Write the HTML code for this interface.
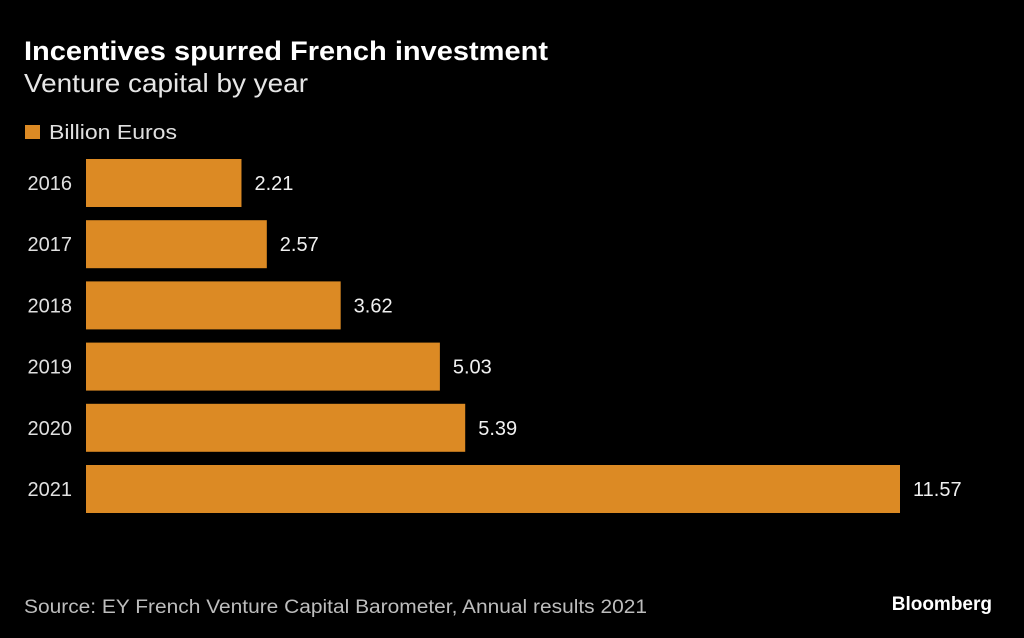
<!DOCTYPE html>
<html><head><meta charset="utf-8"><style>
body{margin:0;background:#000;width:1024px;height:638px;overflow:hidden}
svg{display:block;font-family:"Liberation Sans",sans-serif}
</style></head><body>
<svg id="c" width="1024" height="638" viewBox="0 0 1024 638">
<text x="24" y="60" fill="#fff" font-size="27" font-weight="bold" textLength="524" lengthAdjust="spacingAndGlyphs">Incentives spurred French investment</text>
<text x="24" y="92" fill="#e6e6e6" font-size="26" textLength="284" lengthAdjust="spacingAndGlyphs">Venture capital by year</text>
<rect x="25" y="125" width="15" height="14" fill="#dc8a24"/>
<text x="49" y="139" fill="#e0e0e0" font-size="20" textLength="128" lengthAdjust="spacingAndGlyphs">Billion Euros</text>
<g id="bars"></g>
<text x="24" y="613" fill="#bdbdbd" font-size="19" textLength="623" lengthAdjust="spacingAndGlyphs">Source: EY French Venture Capital Barometer, Annual results 2021</text>
<text x="992" y="610" fill="#fff" font-size="19" font-weight="bold" text-anchor="end">Bloomberg</text>
</svg>
<script>
const categories=["2016","2017","2018","2019","2020","2021"];
const values=[2.21,2.57,3.62,5.03,5.39,11.57];
const valueLabels=["2.21","2.57","3.62","5.03","5.39","11.57"];
const x0=86,xScale=814/11.57;
const xPos=v=>x0+v*xScale;
const yPos=i=>159+i*61.2;
const g=document.getElementById('bars');
const NS="http://www.w3.org/2000/svg";
categories.forEach((c,i)=>{
  const r=document.createElementNS(NS,'rect');
  r.setAttribute('x',x0);r.setAttribute('y',yPos(i));
  r.setAttribute('width',xPos(values[i])-x0);r.setAttribute('height',48);
  r.setAttribute('fill','#dc8a24');
  
  
  g.appendChild(r);
  const t=document.createElementNS(NS,'text');
  t.setAttribute('x',72);t.setAttribute('y',yPos(i)+31);
  t.setAttribute('text-anchor','end');t.setAttribute('fill','#e0e0e0');t.setAttribute('font-size','20');
  t.textContent=c;
  
  
  g.appendChild(t);
  const v=document.createElementNS(NS,'text');
  v.setAttribute('x',xPos(values[i])+13);v.setAttribute('y',yPos(i)+31);
  v.setAttribute('fill','#f0f0f0');v.setAttribute('font-size','20');
  v.textContent=valueLabels[i];
  
  
  g.appendChild(v);
});
</script>
</body></html>
